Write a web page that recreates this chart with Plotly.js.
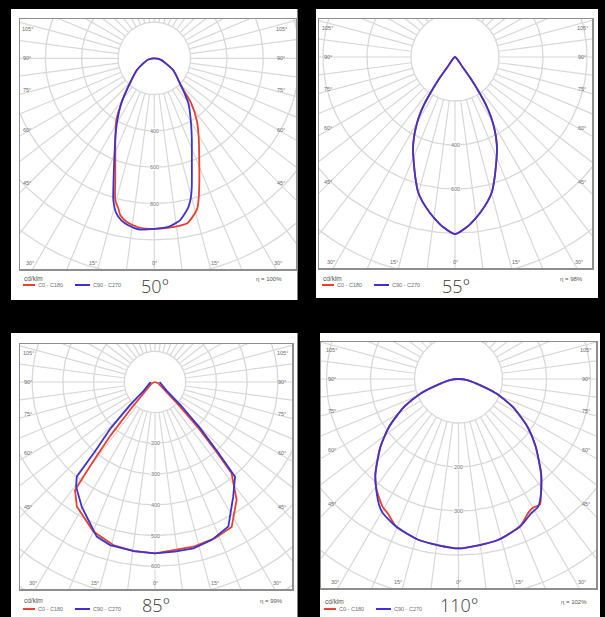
<!DOCTYPE html>
<html><head><meta charset="utf-8">
<script src="https://cdn.plot.ly/plotly-3.0.1.min.js"></script>
<style>html,body{margin:0;padding:0;background:#000;}#chart{width:605px;height:617px;}</style>
</head><body><div id="chart"></div>
<script>
// ================= DATA (luminous intensity, cd/klm, vs gamma angle in degrees) =================
const beamLabels = ['50°', '55°', '85°', '110°'];
const efficiencyLabels = ['η = 100%', 'η = 98%', 'η = 99%', 'η = 102%'];
const seriesNames = ['C0 - C180', 'C90 - C270'];
const unitLabel = 'cd/klm';
const sideAngleLabels = [105, 90, 75, 60, 45];
const bottomAngleLabels = [-30, -15, 0, 15, 30];

// Panel 1 (50°)
const p1_c0_gamma   = [0, 6.8, 11.3, 13.4, 16.0, 17.6, 20.6, 24.2, 29.1, 34.4, 39.4, 44.0, 57.7, 66.3, 78, 90];
const p1_c0_cd      = [940, 935, 927, 901, 860, 809, 706, 604, 504, 414, 321, 214, 124, 69, 35, 0];
const p1_c180_gamma = [0, 5.4, 9.35, 12.2, 13.5, 15.4, 18.0, 21.3, 26.0, 31.5, 36.3, 42.5, 55.7, 65.6, 78, 90];
const p1_c180_cd    = [940, 935, 916, 885, 850, 811, 695, 591, 490, 401, 307, 212, 117, 67, 33, 0];
const p1_c90_gamma  = [0, 4.75, 9.0, 10.9, 12.85, 14.6, 16.2, 20.6, 25.1, 30.5, 37.1, 44.0, 57.7, 66.3, 78, 90];
const p1_c90_cd     = [940, 932, 904, 875, 842, 797, 740, 588, 487, 396, 311, 214, 124, 69, 35, 0];
const p1_c270_gamma = [0, 5.35, 8.85, 11.5, 13.8, 16.1, 17.5, 21.8, 26.0, 30.8, 36.3, 42.5, 55.7, 65.6, 78, 90];
const p1_c270_cd    = [940, 946, 931, 911, 879, 814, 751, 593, 490, 398, 307, 212, 117, 67, 33, 0];
const p1_radialTicks = [400, 600, 800];

// Panel 2 (55°)
const p2_c0_gamma   = [0, 4.0, 6.65, 9.1, 12.6, 15.3, 17.9, 20.8, 24.3, 27.1, 29.1, 31.0, 32.9, 34.4, 36.0, 36.9, 38, 90];
const p2_c0_cd      = [805, 775, 746, 718, 675, 636, 583, 525, 464, 409, 364, 318, 260, 193, 124, 57, 0, 0];
const p2_c180_gamma = [0, 4.0, 6.65, 9.1, 12.6, 15.3, 17.9, 20.8, 24.3, 27.1, 29.1, 31.0, 32.9, 34.4, 36.0, 36.9, 38, 90];
const p2_c180_cd    = [805, 775, 746, 718, 675, 636, 583, 525, 464, 409, 366, 322, 265, 197, 126, 57, 0, 0];
const p2_c90_gamma  = [0, 4.0, 6.65, 9.1, 12.6, 15.3, 17.9, 20.8, 24.3, 27.1, 29.1, 31.0, 32.9, 34.4, 36.0, 36.9, 38, 90];
const p2_c90_cd     = [805, 775, 746, 718, 675, 636, 583, 525, 464, 409, 364, 318, 260, 193, 124, 57, 0, 0];
const p2_c270_gamma = [0, 4.0, 6.65, 9.1, 12.6, 15.3, 17.9, 20.8, 24.3, 27.1, 29.1, 31.0, 32.9, 34.4, 36.0, 36.9, 38, 90];
const p2_c270_cd    = [805, 775, 746, 718, 675, 636, 583, 525, 464, 409, 364, 318, 260, 193, 124, 57, 0, 0];
const p2_radialTicks = [400, 600];

// Panel 3 (85°)
const p3_c0_gamma   = [0, 13.1, 21, 27.9, 34.7, 40, 41.5, 43.5, 45.8, 68.5, 90];
const p3_c0_cd      = [558, 551, 545, 534, 467, 388, 294, 200, 106, 11, 0];
const p3_c180_gamma = [0, 6.9, 14.35, 22.4, 32.1, 36.5, 37.9, 39.8, 42, 68.5, 90];
const p3_c180_cd    = [558, 556, 548, 527, 479, 438, 331, 224, 117, 11, 0];
const p3_c90_gamma  = [0, 6.6, 13, 19.7, 26.9, 34.3, 40.2, 41.9, 44.4, 48, 53.5, 82, 90];
const p3_c90_cd     = [558, 556, 556, 547, 528, 452, 404, 306, 209, 112, 47, 16, 15];
const p3_c270_gamma = [0, 7.4, 15.4, 20.65, 30.45, 37.0, 39.6, 40.8, 43.8, 47.4, 52.4, 82, 90];
const p3_c270_cd    = [558, 555, 551, 538, 471, 427, 400, 303, 208, 111, 46, 16, 15];
const p3_radialTicks = [200, 300, 400, 500, 600];

// Panel 4 (110°)
const p4_c0_gamma   = [0, 13.6, 22.9, 27.5, 30, 33, 36.5, 41.1, 48.8, 55.4, 62.9, 69.1, 76, 83, 90];
const p4_c0_cd      = [385, 377, 362, 343, 338, 340, 315, 285, 233, 190, 138, 91, 41, 20, 0];
const p4_c180_gamma = [0, 13.6, 22.9, 27.8, 30.65, 36.5, 41.1, 48.8, 55.4, 62.9, 69.1, 76, 83, 90];
const p4_c180_cd    = [385, 377, 364, 345, 338, 313, 288, 237, 192, 139, 91, 41, 20, 0];
const p4_c90_gamma  = [0, 13.6, 22.9, 28.4, 32, 36.5, 41.1, 48.8, 55.4, 62.9, 69.1, 76, 83, 90];
const p4_c90_cd     = [385, 377, 363, 347, 342, 316, 286, 233, 190, 138, 91, 41, 20, 0];
const p4_c270_gamma = [0, 13.6, 22.9, 29.4, 31.7, 36.5, 41.1, 48.8, 55.4, 62.9, 69.1, 76, 83, 90];
const p4_c270_cd    = [385, 377, 364, 350, 341, 314, 287, 236, 192, 139, 92, 41, 20, 0];
const p4_radialTicks = [200, 300];

// ================= LAYOUT CONFIG (pixel geometry, styles) =================
const W = 605, H = 617;
const RED = '#e8412f', BLUE = '#3d33cf';
const GRID = '#d8d8d8', FRAME = '#8e8e8e', TXT = '#6e6e6e';
const panels = [
  {cx:154.3, cy:58.3, s:0.1815, step:200, fl:20, fr:296, ft:19, fb:269, wl:11, wr:297.5, wt:9, wb:300, unitDy:9, legDy:16, bigY:286, shape:'spline',
   c0:[p1_c0_gamma,p1_c0_cd], c180:[p1_c180_gamma,p1_c180_cd], c90:[p1_c90_gamma,p1_c90_cd], c270:[p1_c270_gamma,p1_c270_cd], ticks:p1_radialTicks},
  {cx:455, cy:57, s:0.22, step:200, fl:319, fr:592, ft:19, fb:268, wl:316, wr:598, wt:9, wb:298, unitDy:10, legDy:17, bigY:286, shape:'spline',
   c0:[p2_c0_gamma,p2_c0_cd], c180:[p2_c180_gamma,p2_c180_cd], c90:[p2_c90_gamma,p2_c90_cd], c270:[p2_c270_gamma,p2_c270_cd], ticks:p2_radialTicks},
  {cx:155, cy:382, s:0.307, step:100, fl:20, fr:292, ft:344, fb:589, wl:11, wr:297.5, wt:333, wb:617, unitDy:11, legDy:20, bigY:605, shape:'linear',
   c0:[p3_c0_gamma,p3_c0_cd], c180:[p3_c180_gamma,p3_c180_cd], c90:[p3_c90_gamma,p3_c90_cd], c270:[p3_c270_gamma,p3_c270_cd], ticks:p3_radialTicks},
  {cx:458.5, cy:379, s:0.44, step:100, fl:321, fr:596, ft:342, fb:588, wl:320, wr:600, wt:333, wb:617, unitDy:13, legDy:21, bigY:605, shape:'spline',
   c0:[p4_c0_gamma,p4_c0_cd], c180:[p4_c180_gamma,p4_c180_cd], c90:[p4_c90_gamma,p4_c90_cd], c270:[p4_c270_gamma,p4_c270_cd], ticks:p4_radialTicks},
];

const rad = d => d * Math.PI / 180;
function polarXY(g, r, side) { return [side * r * Math.sin(rad(g)), -r * Math.cos(rad(g))]; }

function curveXY(left, right) {
  const xs = [], ys = [];
  const push = (x, y) => {
    const n = xs.length;
    if (n && Math.abs(xs[n-1]-x) < 1e-6 && Math.abs(ys[n-1]-y) < 1e-6) return;
    xs.push(x); ys.push(y);
  };
  for (let j = left[0].length - 1; j >= 0; j--) { const p = polarXY(left[0][j], left[1][j], -1); push(p[0], p[1]); }
  for (let j = 0; j < right[0].length; j++) { const p = polarXY(right[0][j], right[1][j], 1); push(p[0], p[1]); }
  return [xs, ys];
}

const traces = [], shapes = [], annotations = [];
const layout = {
  width: W, height: H, margin: {l:0, r:0, t:0, b:0},
  paper_bgcolor: '#000', plot_bgcolor: '#fff', showlegend: false,
  font: {family: 'Liberation Sans, Arial, sans-serif', color: TXT},
  shapes, annotations
};
const px = x => x / W, py = y => 1 - y / H;
function ann(x, y, text, o) {
  o = o || {};
  annotations.push({xref:'paper', yref:'paper', x:px(x), y:py(y), text, showarrow:false,
    xanchor:o.xa||'center', yanchor:o.ya||'middle', bgcolor:o.bg, borderpad:0,
    font:{size:o.size||6, color:o.color||TXT, family:o.family||'Liberation Sans, Arial, sans-serif', weight:o.weight}});
}

panels.forEach((P, i) => {
  const sfx = i === 0 ? '' : String(i + 1);
  const xa = 'x' + sfx, ya = 'y' + sfx;
  // white card
  shapes.push({type:'rect', xref:'paper', yref:'paper', x0:px(P.wl), x1:px(P.wr), y0:py(P.wb), y1:py(P.wt),
    fillcolor:'#fff', line:{width:0}, layer:'below'});
  layout['xaxis' + sfx] = {domain:[px(P.fl), px(P.fr)], range:[(P.fl-P.cx)/P.s, (P.fr-P.cx)/P.s],
    showgrid:false, zeroline:false, showticklabels:false, ticks:'', showline:true, mirror:true,
    linecolor:FRAME, linewidth:1.5, fixedrange:true, anchor:ya};
  layout['yaxis' + sfx] = {domain:[py(P.fb), py(P.ft)], range:[-(P.fb-P.cy)/P.s, (P.cy-P.ft)/P.s],
    showgrid:false, zeroline:false, showticklabels:false, ticks:'', showline:true, mirror:true,
    linecolor:FRAME, linewidth:1.5, fixedrange:true, anchor:xa};

  // polar grid
  const corners = [[P.fl,P.ft],[P.fr,P.ft],[P.fl,P.fb],[P.fr,P.fb]];
  const maxR = Math.max(...corners.map(c => Math.hypot(c[0]-P.cx, c[1]-P.cy))) / P.s;
  const K = Math.ceil(maxR / P.step) + 1;
  const cx = [], cy = [];
  for (let k = 1; k <= K; k++) {
    for (let a = 0; a <= 360; a += 2) { const p = polarXY(a, k*P.step, 1); cx.push(p[0]); cy.push(p[1]); }
    cx.push(null); cy.push(null);
  }
  const rx = [], ry = [];
  for (let a = 0; a < 360; a += 7.5) {
    const p0 = polarXY(a, P.step, 1), p1 = polarXY(a, K*P.step, 1);
    rx.push(p0[0], p1[0], null); ry.push(p0[1], p1[1], null);
  }
  traces.push({type:'scatter', mode:'lines', x:cx, y:cy, xaxis:xa, yaxis:ya, line:{color:GRID, width:1.3}, hoverinfo:'skip'});
  traces.push({type:'scatter', mode:'lines', x:rx, y:ry, xaxis:xa, yaxis:ya, line:{color:GRID, width:1.2}, hoverinfo:'skip'});

  // curves
  const red = curveXY(P.c180, P.c0), blue = curveXY(P.c270, P.c90);
  traces.push({type:'scatter', mode:'lines', name:seriesNames[0], x:red[0], y:red[1], xaxis:xa, yaxis:ya,
    line:{color:RED, width:1.8, shape:P.shape, smoothing:0.6}});
  traces.push({type:'scatter', mode:'lines', name:seriesNames[1], x:blue[0], y:blue[1], xaxis:xa, yaxis:ya,
    line:{color:BLUE, width:1.8, shape:P.shape, smoothing:0.6}});

  // radial intensity labels on the 0° axis
  P.ticks.forEach(v => ann(P.cx, P.cy + v*P.s, String(v), {size:5.5, bg:'rgba(255,255,255,0.85)', color:'#777'}));

  // side angle labels
  const D = 127;
  sideAngleLabels.forEach(g => {
    const yy = P.cy + D / Math.tan(rad(g)) + (g > 90 ? 5 : (g < 90 ? -2 : 0));
    ann(P.cx - D, yy, g + '°', {size:5.5});
    ann(P.cx + D, yy, g + '°', {size:5.5});
  });
  // bottom angle labels
  const by = P.fb - 6;
  bottomAngleLabels.forEach(g => {
    const a = Math.abs(g);
    const off = a === 0 ? 0 : Math.min(D, (by - P.cy) * Math.tan(rad(a)) + 6);
    ann(P.cx + Math.sign(g) * off, by, a + '°', {size:5.5});
  });

  // legend / captions
  ann(P.fl + 3, P.fb + P.unitDy, unitLabel, {xa:'left', size:6.5, color:'#555'});
  const ly = P.fb + P.legDy;
  shapes.push({type:'line', xref:'paper', yref:'paper', x0:px(P.fl+3), x1:px(P.fl+15), y0:py(ly), y1:py(ly), line:{color:RED, width:2}});
  ann(P.fl + 17, ly, seriesNames[0], {xa:'left', size:5.5});
  shapes.push({type:'line', xref:'paper', yref:'paper', x0:px(P.fl+55), x1:px(P.fl+70), y0:py(ly), y1:py(ly), line:{color:BLUE, width:2}});
  ann(P.fl + 72, ly, seriesNames[1], {xa:'left', size:5.5});
  ann(P.cx + 129, P.fb + P.unitDy + 1, efficiencyLabels[i], {xa:'right', size:6, color:'#555'});
  ann(P.cx + 1, P.bigY, beamLabels[i], {size:18, color:'#3a3a3a', family:'Open Sans, Lato, sans-serif', weight:300});
});

Plotly.newPlot('chart', traces, layout, {staticPlot:true, displayModeBar:false});
</script>
</body></html>
